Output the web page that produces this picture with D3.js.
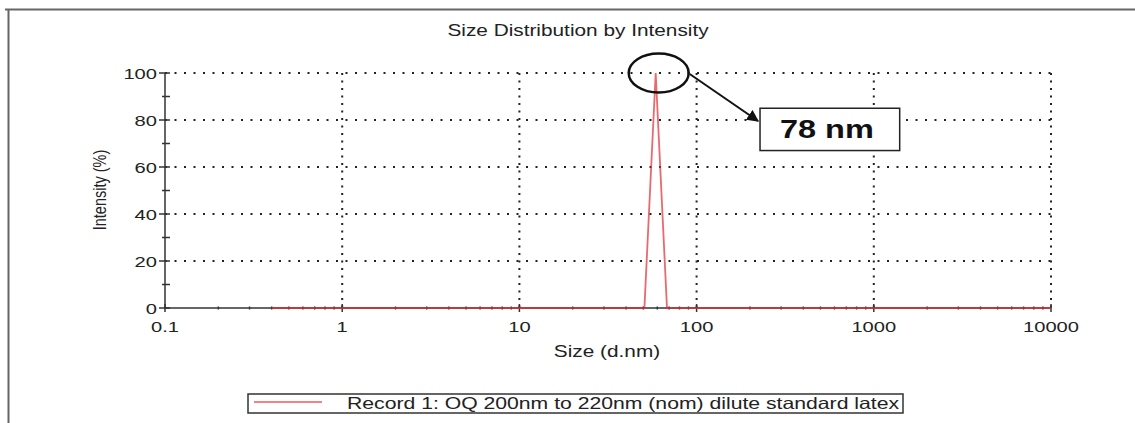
<!DOCTYPE html>
<html>
<head>
<meta charset="utf-8">
<script src="https://cdn.jsdelivr.net/npm/d3@7"></script>
<style>
  body { margin: 0; background: #fff; }
  text { font-family: "Liberation Sans", Arial, sans-serif; fill: #222; }
</style>
</head>
<body>
<div id="chart"></div>
<script>
// data
var sizes = [0.4, 50.75, 58.77, 68.06, 10000];      // d.nm
var intensity = [0, 0, 100, 0, 0];                   // %
var xTickValues = [0.1, 1, 10, 100, 1000, 10000];
var xTickLabels = ["0.1", "1", "10", "100", "1000", "10000"];
var yTickValues = [0, 20, 40, 60, 80, 100];
var peakSize = 58.77;
var peakLabel = "78 nm";
var legendLabel = "Record 1: OQ 200nm to 220nm (nom) dilute standard latex";

var W = 1135, H = 423;
var margin = {top: 73, right: 84, bottom: 115, left: 165};
var width = W - margin.left - margin.right,
    height = H - margin.top - margin.bottom;
var SX = 1.3; // the original picture is stretched sideways

var svg = d3.select("#chart").append("svg")
    .attr("width", W).attr("height", H);

// outer frame (top + left edges only visible)
svg.append("path")
    .attr("d", "M5,9.5H" + W + "M8.5,9.5V" + H)
    .attr("fill", "none").attr("stroke", "#666").attr("stroke-width", 2);

function stretched(sel, x, y, rot) {
    return sel.attr("transform", "translate(" + x + "," + y + ") scale(" + SX + ",1)" + (rot ? " rotate(" + rot + ")" : ""));
}

stretched(svg.append("text"), 578, 36)
    .attr("text-anchor", "middle").style("font-size", "16px")
    .text("Size Distribution by Intensity");

var g = svg.append("g")
    .attr("transform", "translate(" + margin.left + "," + margin.top + ")");

var x = d3.scaleLog().domain([0.1, 10000]).range([0, width]);
var y = d3.scaleLinear().domain([0, 100]).range([height, 0]);

// grid
g.append("g").selectAll("line").data(yTickValues.slice(1)).enter().append("line")
    .attr("x1", 0).attr("x2", width)
    .attr("y1", function(d) { return y(d); }).attr("y2", function(d) { return y(d); })
    .attr("stroke", "#222").attr("stroke-width", 2).attr("stroke-dasharray", "2,7.5");
g.append("g").selectAll("line").data(xTickValues.slice(1)).enter().append("line")
    .attr("x1", function(d) { return x(d); }).attr("x2", function(d) { return x(d); })
    .attr("y1", 0).attr("y2", height)
    .attr("stroke", "#222").attr("stroke-width", 2).attr("stroke-dasharray", "2,5.5");

// x axis with minor ticks
var minorX = [];
xTickValues.slice(0, -1).forEach(function(d) {
    [2, 3, 4, 5, 6, 7, 8, 9].forEach(function(m) { minorX.push(d * m); });
});
var xAxis = g.append("g").attr("transform", "translate(0," + height + ")");
xAxis.append("line").attr("x1", 0).attr("x2", width)
    .attr("stroke", "#333").attr("stroke-width", 1.5);
xAxis.selectAll(".minor").data(minorX).enter().append("line")
    .attr("x1", function(d) { return x(d); }).attr("x2", function(d) { return x(d); })
    .attr("y1", -1.5).attr("y2", 1.5)
    .attr("stroke", "#333").attr("stroke-width", 1.5);
xAxis.selectAll(".major").data(xTickValues).enter().append("line")
    .attr("x1", function(d) { return x(d); }).attr("x2", function(d) { return x(d); })
    .attr("y1", -4).attr("y2", 4)
    .attr("stroke", "#333").attr("stroke-width", 1.5);
xAxis.selectAll("text").data(xTickValues).enter().append("text")
    .each(function(d, i) { stretched(d3.select(this), x(d), 24); })
    .attr("text-anchor", "middle").style("font-size", "15.5px")
    .text(function(d, i) { return xTickLabels[i]; });

// y axis with minor ticks
var yAxis = g.append("g");
yAxis.append("line").attr("y1", 0).attr("y2", height)
    .attr("stroke", "#333").attr("stroke-width", 1.5);
yAxis.selectAll(".major").data(yTickValues).enter().append("line")
    .attr("x1", -6).attr("x2", 5)
    .attr("y1", function(d) { return y(d); }).attr("y2", function(d) { return y(d); })
    .attr("stroke", "#333").attr("stroke-width", 1.5);
yAxis.selectAll(".minor").data([10, 30, 50, 70, 90]).enter().append("line")
    .attr("x1", -3).attr("x2", 5)
    .attr("y1", function(d) { return y(d); }).attr("y2", function(d) { return y(d); })
    .attr("stroke", "#333").attr("stroke-width", 1.5);
yAxis.selectAll("text").data(yTickValues).enter().append("text")
    .each(function(d) { stretched(d3.select(this), -8, y(d) + 5.5); })
    .attr("text-anchor", "end").style("font-size", "15.5px")
    .text(function(d) { return d; });

// axis titles
stretched(svg.append("text"), 607, 357)
    .attr("text-anchor", "middle").style("font-size", "16px")
    .text("Size (d.nm)");
stretched(svg.append("text"), 106, 190, -90)
    .attr("text-anchor", "middle").style("font-size", "14.5px")
    .text("Intensity (%)");

// the record
var pts = sizes.map(function(d, i) { return [d, intensity[i]]; });
g.append("path").datum(pts)
    .attr("fill", "none").attr("stroke", "#e02a30").attr("stroke-opacity", 0.7)
    .attr("stroke-width", 1.8)
    .attr("d", d3.line().x(function(d) { return x(d[0]); }).y(function(d) { return y(d[1]); }));

// callout for the peak
var cx = x(peakSize) + 3, cy = y(100);
g.append("ellipse").attr("cx", cx).attr("cy", cy).attr("rx", 30).attr("ry", 19.5)
    .attr("fill", "none").attr("stroke", "#111").attr("stroke-width", 2.5);
var boxX = x(228), boxY = y(85), boxW = x(1400) - x(228), boxH = y(67) - y(85);
svg.append("defs").append("marker").attr("id", "arr")
    .attr("viewBox", "0 0 10 10").attr("refX", 9).attr("refY", 5)
    .attr("markerWidth", 6).attr("markerHeight", 6).attr("orient", "auto")
    .append("path").attr("d", "M0,0L10,5L0,10z").attr("fill", "#111");
g.append("line")
    .attr("x1", cx + 31).attr("y1", cy + 1)
    .attr("x2", boxX - 2).attr("y2", cy + 48)
    .attr("stroke", "#111").attr("stroke-width", 2).attr("marker-end", "url(#arr)");
g.append("rect").attr("x", boxX).attr("y", boxY).attr("width", boxW).attr("height", boxH)
    .attr("fill", "#fff").attr("stroke", "#222").attr("stroke-width", 1.5);
stretched(g.append("text"), boxX + boxW / 2 - 3, boxY + boxH / 2 + 9)
    .attr("text-anchor", "middle").style("font-size", "25px").style("font-weight", "bold")
    .style("fill", "#111").text(peakLabel);

// legend
var leg = svg.append("g");
leg.append("rect").attr("x", 248).attr("y", 394).attr("width", 655).attr("height", 19)
    .attr("fill", "#fff").attr("stroke", "#333").attr("stroke-width", 1.5);
leg.append("line").attr("x1", 254).attr("x2", 322).attr("y1", 402).attr("y2", 402)
    .attr("stroke", "#e8333a").attr("stroke-opacity", 0.8).attr("stroke-width", 1.5);
stretched(leg.append("text"), 347, 409)
    .style("font-size", "16.3px").text(legendLabel);
</script>
</body>
</html>
